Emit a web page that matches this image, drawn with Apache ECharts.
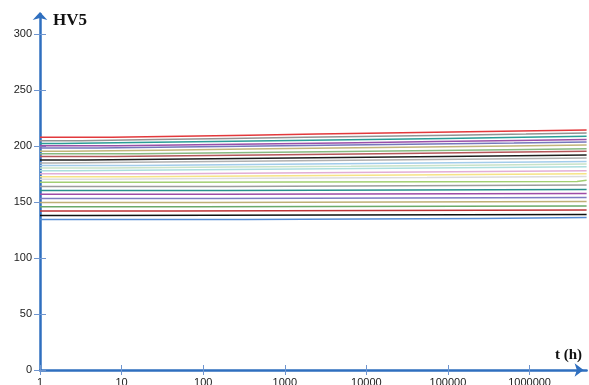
<!DOCTYPE html>
<html>
<head>
<meta charset="utf-8">
<script src="https://cdn.jsdelivr.net/npm/echarts@6/dist/echarts.min.js"></script>
<style>
  html, body { margin: 0; padding: 0; background: #fff; }
  #chart { width: 589px; height: 385px; }
</style>
</head>
<body>
<div id="chart"></div>
<script>
// ---- data: [t (h), HV5] step breakpoints ----
const line01 = [[1,208.0],[7.6,208.9],[53,209.8],[364,210.7],[2482,211.6],[16900,212.5],[112000,213.4],[741000,214.3]];
const line02 = [[1,204.7],[3.2,205.8],[26,206.9],[213,207.9],[1769,208.9],[13870,209.8],[112000,210.7],[903000,211.6]];
const line03 = [[1,202.4],[1.8,203.3],[15,204.2],[136,205.1],[1225,206.0],[10760,206.9],[94500,207.8],[830000,208.7]];
const line04 = [[1,200.4],[8.8,201.3],[84,202.2],[826,203.1],[7670,204.0],[73300,204.9],[721000,205.8]];
const line05 = [[1,198.2],[5,199.1],[52,200.0],[541,200.9],[5785,201.8],[61900,202.7],[644000,203.6]];
const line06 = [[1,195.5],[2.1,196.4],[30,197.3],[344,198.2],[4123,199.1],[50800,200.0],[592000,200.9]];
const line07 = [[1,193.1],[16,194.0],[213,194.9],[2857,195.8],[38300,196.7],[514000,197.6]];
const line08 = [[1,190.8],[7.8,191.7],[121,192.6],[1872,193.5],[27310,194.4],[422000,195.3]];
const line09 = [[1,187.5],[3.6,188.4],[65,189.3],[1191,190.2],[21180,191.1],[366000,192.0]];
const line10 = [[1,184.8],[1.4,185.7],[30,186.6],[640,187.5],[14690,188.4],[300600,189.3]];
const line11 = [[1,182.6],[15,183.5],[396,184.4],[10170,185.3],[253700,186.2]];
const line12 = [[1,180.4],[6.3,181.3],[201,182.1],[6476,183.0],[186000,183.9]];
const line13 = [[1,178.0],[2.3,178.9],[89,179.8],[3580,180.7],[132700,181.5]];
const line14 = [[1,175.3],[39,176.2],[2155,177.1],[118500,178.0]];
const line15 = [[1,172.6],[14,173.5],[1094,174.4],[82100,175.3]];
const line16 = [[1,170.3],[4.5,171.2],[497,172.0],[55300,172.9]];
const line17 = [[1,167.6],[30,168.3],[3810000,169.4]];
const line18 = [[1,164.0],[213,165.2]];
const line19 = [[1,160.4],[190,161.3]];
const line20 = [[1,156.9],[170,157.7]];
const line21 = [[1,153.3],[152,154.1]];
const line22 = [[1,149.6],[115,150.5]];
const line23 = [[1,145.8],[89,146.6]];
const line24 = [[1,142.0],[46,142.9]];
const line25 = [[1,138.1],[3.7,139.0]];
const line26 = [[1,134.5],[325,135.4],[253700,136.2]];

const xTicks = [1, 10, 100, 1000, 10000, 100000, 1000000];
const yTicks = [0, 50, 100, 150, 200, 250, 300];
const X_MIN = 1, X_MAX = 5000000;
const Y_MIN = 0, Y_MAX = 318;

// ---- styles ----
const lines = [line01,line02,line03,line04,line05,line06,line07,line08,line09,line10,line11,line12,line13,
               line14,line15,line16,line17,line18,line19,line20,line21,line22,line23,line24,line25,line26];
const colors = ['#e2393c','#939393','#2a9d96','#9a4fa8','#7676bd','#c2b47a','#86b981','#b5565a','#1e1e1e',
                '#b0b0b0','#a2cceb','#c8e2c8','#aadede','#e2aed6','#f6e384','#dcdcdc','#a2cf72','#9c9c9c',
                '#27908d','#9e4ca6','#7c7cc2','#bfb076','#6aaa6a','#be3438','#111111','#558bd4'];
const AXIS = '#2f6fbf', TICK = '#6f95cf';

// expand breakpoints into a staircase (value held until the next breakpoint)
function staircase(arr) {
  const out = [];
  for (let i = 0; i < arr.length; i++) {
    if (i > 0) out.push([arr[i][0], arr[i - 1][1]]);
    out.push([arr[i][0], arr[i][1]]);
  }
  out.push([X_MAX, arr[arr.length - 1][1]]);
  return out;
}

const chart = echarts.init(document.getElementById('chart'), null, { renderer: 'canvas' });

const series = lines.map((arr, i) => ({
  type: 'line',
  xAxisIndex: 0, yAxisIndex: 0,
  showSymbol: false, symbol: 'none',
  silent: true,
  lineStyle: { color: colors[i], width: 1.5 },
  data: staircase(arr)
}));

const gridPos = { left: 40, right: 2.4, top: 14, bottom: 15, containLabel: false, outerBoundsMode: 'none' };

chart.setOption({
  animation: false,
  backgroundColor: '#ffffff',
  title: [
    { text: 'HV5', left: 53, top: 12, padding: 0,
      textStyle: { fontFamily: 'Liberation Serif', fontWeight: 'bold', fontSize: 17, color: '#111' } },
    { text: 't (h)', left: 555, top: 348, padding: 0,
      textStyle: { fontFamily: 'Liberation Serif', fontWeight: 'bold', fontSize: 15, color: '#111' } }
  ],
  grid: [
    Object.assign({}, gridPos),
    Object.assign({}, gridPos)
  ],
  xAxis: [
    { type: 'log', logBase: 10, min: X_MIN, max: X_MAX, gridIndex: 0,
      axisLine: { show: true, lineStyle: { color: AXIS, width: 2.5 }, symbol: ['none', 'arrow'], symbolSize: [10, 9], symbolOffset: [0, -3] },
      axisTick: { show: true, inside: false, length: 5, customValues: xTicks, lineStyle: { color: TICK, width: 1 } },
      axisLabel: { show: true, customValues: xTicks, margin: 7, fontFamily: 'Liberation Sans', fontSize: 11, color: '#222',
                   formatter: v => String(Math.round(v)) },
      splitLine: { show: false }, minorTick: { show: false } },
    { type: 'log', logBase: 10, min: X_MIN, max: X_MAX, gridIndex: 1,
      axisLine: { show: false },
      axisTick: { show: true, inside: true, length: 5, customValues: xTicks, lineStyle: { color: TICK, width: 1 } },
      axisLabel: { show: false }, splitLine: { show: false } }
  ],
  yAxis: [
    { type: 'value', min: Y_MIN, max: Y_MAX, gridIndex: 0,
      axisLine: { show: true, lineStyle: { color: AXIS, width: 2.5 }, symbol: ['none', 'arrow'], symbolSize: [11, 8], symbolOffset: [0, 2] },
      axisTick: { show: true, inside: false, length: 6, customValues: yTicks, lineStyle: { color: TICK, width: 1 } },
      axisLabel: { show: true, customValues: yTicks, margin: 8, fontFamily: 'Liberation Sans', fontSize: 11, color: '#222' },
      splitLine: { show: false } },
    { type: 'value', min: Y_MIN, max: Y_MAX, gridIndex: 1,
      axisLine: { show: false },
      axisTick: { show: true, inside: true, length: 6, customValues: yTicks, lineStyle: { color: TICK, width: 1 } },
      axisLabel: { show: false }, splitLine: { show: false } }
  ],
  series: series
});
</script>
</body>
</html>
